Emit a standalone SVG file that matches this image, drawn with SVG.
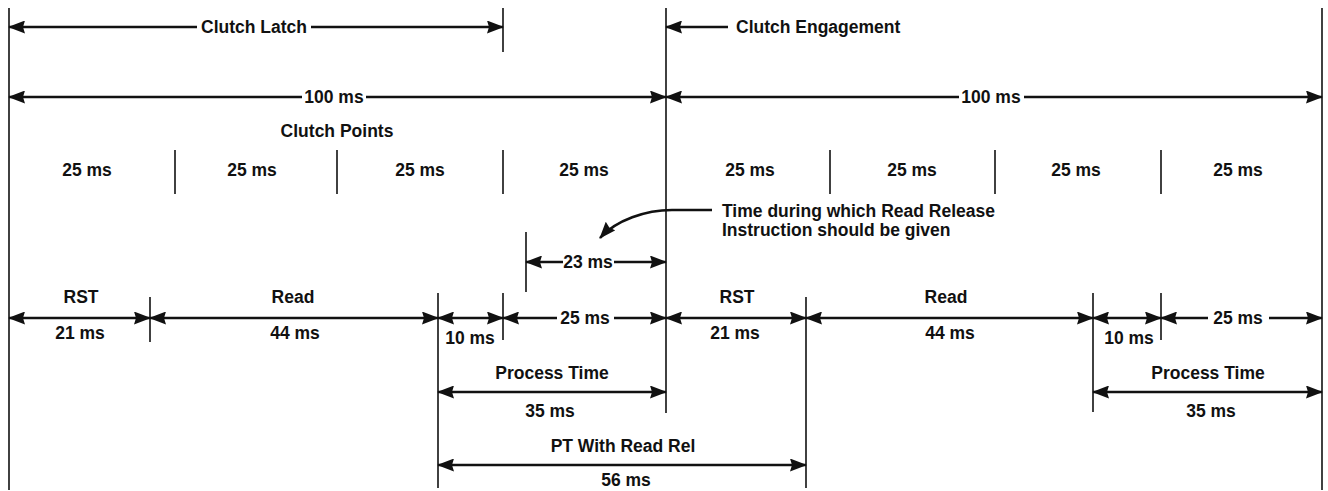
<svg xmlns="http://www.w3.org/2000/svg" width="1328" height="491" viewBox="0 0 1328 491">
<style>
  text { font-family: "Liberation Sans", Arial, sans-serif; font-weight: bold; font-size: 17.5px; fill: #111; }
  .m { text-anchor: middle; }
  .v { stroke: #111; stroke-width: 1.6; fill: none; }
  .a { stroke: #111; stroke-width: 2.6; fill: none; }
  .as { marker-start: url(#ah); }
  .ae { marker-end: url(#ah); }
</style>
<defs>
  <marker id="ah" markerUnits="userSpaceOnUse" markerWidth="17" markerHeight="13" refX="16" refY="6.5" orient="auto-start-reverse">
    <path d="M0,0 L17,6.5 L0,13 L2,6.5 Z" fill="#111"/>
  </marker>
</defs>
<rect width="1328" height="491" fill="#fff"/>

<g id="connectors">
  <!-- vertical reference lines -->
  <line class="v" x1="9" y1="8" x2="9" y2="490"/>
  <line class="v" x1="503" y1="8" x2="503" y2="52"/>
  <line class="v" x1="666" y1="8" x2="666" y2="413"/>
  <line class="v" x1="1322" y1="8" x2="1322" y2="490"/>
  <!-- clutch point ticks -->
  <line class="v" x1="175" y1="150" x2="175" y2="194"/>
  <line class="v" x1="337" y1="150" x2="337" y2="194"/>
  <line class="v" x1="503" y1="150" x2="503" y2="194"/>
  <line class="v" x1="830" y1="150" x2="830" y2="194"/>
  <line class="v" x1="995" y1="150" x2="995" y2="194"/>
  <line class="v" x1="1161" y1="150" x2="1161" y2="194"/>
  <!-- 23 ms tick -->
  <line class="v" x1="526" y1="232" x2="526" y2="292"/>
  <!-- timing row ticks -->
  <line class="v" x1="150" y1="297" x2="150" y2="342"/>
  <line class="v" x1="438" y1="293" x2="438" y2="488"/>
  <line class="v" x1="503" y1="293" x2="503" y2="340"/>
  <line class="v" x1="806" y1="297" x2="806" y2="488"/>
  <line class="v" x1="1093" y1="293" x2="1093" y2="412"/>
  <line class="v" x1="1161" y1="293" x2="1161" y2="340"/>

  <!-- Clutch Latch -->
  <line class="a as" x1="9" y1="27" x2="197" y2="27"/>
  <line class="a ae" x1="311" y1="27" x2="503" y2="27"/>
  <!-- Clutch Engagement -->
  <line class="a ae" x1="728" y1="27" x2="666" y2="27"/>
  <!-- 100 ms -->
  <line class="a as" x1="9" y1="97" x2="302" y2="97"/>
  <line class="a ae" x1="366" y1="97" x2="666" y2="97"/>
  <line class="a as" x1="666" y1="97" x2="959" y2="97"/>
  <line class="a ae" x1="1024" y1="97" x2="1322" y2="97"/>
  <!-- curved pointer -->
  <path class="a ae" d="M712,210 L672,210 C646,210 616,220 600,238"/>
  <!-- 23 ms -->
  <line class="a as" x1="526" y1="262" x2="563" y2="262"/>
  <line class="a ae" x1="614" y1="262" x2="666" y2="262"/>
  <!-- timing row -->
  <line class="a as ae" x1="9" y1="318" x2="150" y2="318"/>
  <line class="a as ae" x1="150" y1="318" x2="438" y2="318"/>
  <line class="a as ae" x1="438" y1="318" x2="503" y2="318"/>
  <line class="a as" x1="503" y1="318" x2="557" y2="318"/>
  <line class="a ae" x1="614" y1="318" x2="666" y2="318"/>
  <line class="a as ae" x1="666" y1="318" x2="806" y2="318"/>
  <line class="a as ae" x1="806" y1="318" x2="1093" y2="318"/>
  <line class="a as ae" x1="1093" y1="318" x2="1161" y2="318"/>
  <line class="a as" x1="1161" y1="318" x2="1208" y2="318"/>
  <line class="a ae" x1="1269" y1="318" x2="1322" y2="318"/>
  <!-- process time -->
  <line class="a as ae" x1="438" y1="392" x2="666" y2="392"/>
  <line class="a as ae" x1="1093" y1="392" x2="1322" y2="392"/>
  <!-- PT with read rel -->
  <line class="a as ae" x1="438" y1="465" x2="806" y2="465"/>
</g>

<g id="clutch-latch"><text class="m" x="254" y="33">Clutch Latch</text></g>
<g id="clutch-engagement"><text x="736" y="33">Clutch Engagement</text></g>
<g id="cycle-1"><text class="m" x="334" y="103">100 ms</text></g>
<g id="cycle-2"><text class="m" x="991" y="103">100 ms</text></g>
<g id="clutch-points"><text class="m" x="337" y="137">Clutch Points</text></g>
<g id="points">
  <text class="m" x="87" y="176">25 ms</text>
  <text class="m" x="252" y="176">25 ms</text>
  <text class="m" x="420" y="176">25 ms</text>
  <text class="m" x="584" y="176">25 ms</text>
  <text class="m" x="750" y="176">25 ms</text>
  <text class="m" x="912" y="176">25 ms</text>
  <text class="m" x="1076" y="176">25 ms</text>
  <text class="m" x="1238" y="176">25 ms</text>
</g>
<g id="note">
  <text x="722" y="217">Time during which Read Release</text>
  <text x="722" y="236">Instruction should be given</text>
</g>
<g id="window-23"><text class="m" x="588" y="268">23 ms</text></g>
<g id="rst-1"><text class="m" x="81" y="303">RST</text><text class="m" x="80" y="339">21 ms</text></g>
<g id="read-1"><text class="m" x="293" y="303">Read</text><text class="m" x="295" y="339">44 ms</text></g>
<g id="gap-1"><text class="m" x="470" y="344">10 ms</text></g>
<g id="rem-1"><text class="m" x="585" y="324">25 ms</text></g>
<g id="rst-2"><text class="m" x="737" y="303">RST</text><text class="m" x="735" y="339">21 ms</text></g>
<g id="read-2"><text class="m" x="946" y="303">Read</text><text class="m" x="950" y="339">44 ms</text></g>
<g id="gap-2"><text class="m" x="1129" y="344">10 ms</text></g>
<g id="rem-2"><text class="m" x="1238" y="324">25 ms</text></g>
<g id="process-1"><text class="m" x="552" y="379">Process Time</text><text class="m" x="550" y="417">35 ms</text></g>
<g id="process-2"><text class="m" x="1208" y="379">Process Time</text><text class="m" x="1211" y="417">35 ms</text></g>
<g id="pt-read-rel"><text class="m" x="623" y="452">PT With Read Rel</text><text class="m" x="626" y="486">56 ms</text></g>
</svg>
